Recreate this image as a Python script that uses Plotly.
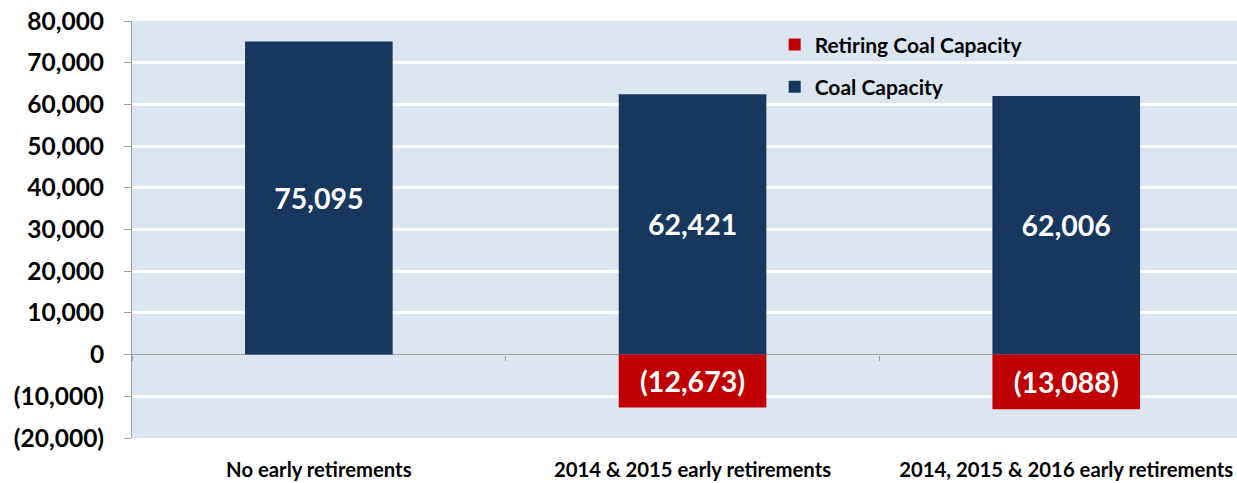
import plotly.graph_objects as go

categories = ["No early retirements", "2014 & 2015 early retirements", "2014, 2015 & 2016 early retirements"]
coal_capacity = [75095, 62421, 62006]
retiring_capacity = [None, -12673, -13088]

y_ticks = [80000, 70000, 60000, 50000, 40000, 30000, 20000, 10000, 0, -10000, -20000]


def fmt(v):
    if v is None:
        return ""
    return f"({abs(v):,})" if v < 0 else f"{v:,}"


FONT = "Lato, Calibri, 'Open Sans', sans-serif"
NAVY = "#17375E"
RED = "#C00000"

fig = go.Figure()
fig.add_trace(go.Bar(
    x=categories, y=coal_capacity, name="Coal Capacity", legendgroup="coal", legendrank=2,
    marker=dict(color=NAVY, line=dict(width=0)),
    text=[fmt(v) for v in coal_capacity], textposition="inside",
    insidetextanchor="middle", textangle=0,
    textfont=dict(family=FONT, size=28.5, color="white", weight="bold"),
    width=0.395,
))
fig.add_trace(go.Bar(
    x=categories, y=retiring_capacity, name="Retiring Coal Capacity", legendgroup="ret", legendrank=1,
    marker=dict(color=RED, line=dict(width=0)),
    text=[fmt(v) for v in retiring_capacity], textposition="inside",
    insidetextanchor="middle", textangle=0,
    textfont=dict(family=FONT, size=28.5, color="white", weight="bold"),
    width=0.395,
))
# helper trace so the zero-line axis with boundary ticks is drawn
fig.add_trace(go.Scatter(x=categories, y=[0, 0, 0], xaxis="x2", mode="lines",
                         line=dict(width=0), showlegend=False, hoverinfo="skip"))

xrange = [-0.5, 2.457]
fig.update_layout(
    width=1237, height=483,
    barmode="relative",
    paper_bgcolor="white",
    plot_bgcolor="#DCE6F1",
    margin=dict(l=132, r=0, t=21, b=45, autoexpand=False),
    font=dict(family=FONT, color="black"),
    legend=dict(
        x=0.5816, y=0.992, xanchor="left", yanchor="top",
        bgcolor="rgba(0,0,0,0)", traceorder="grouped",
        font=dict(family=FONT, size=21, color="black", weight="bold"),
        itemwidth=30, tracegroupgap=12,
    ),
    xaxis=dict(
        type="category", range=xrange, showgrid=False, zeroline=False,
        showline=False, ticks="", ticklabelstandoff=18, automargin=False,
        tickfont=dict(family=FONT, size=20.3, color="black", weight="bold"),
    ),
    xaxis2=dict(
        type="category", overlaying="x", anchor="free", position=(20000 / 100000),
        range=xrange, showline=False, showgrid=False, zeroline=False,
        showticklabels=False, ticks="outside", tickson="boundaries",
        ticklen=5, tickcolor="#A0A0A0", tickwidth=1, side="bottom",
    ),
    yaxis=dict(
        range=[-20000, 80000], tickvals=y_ticks, ticktext=[fmt(v) for v in y_ticks],
        showgrid=True, gridcolor="white", gridwidth=3,
        zeroline=True, zerolinecolor="#A0A0A0", zerolinewidth=1,
        showline=True, linecolor="#A0A0A0", linewidth=1,
        ticks="outside", ticklen=7, tickcolor="#A0A0A0",
        ticklabelstandoff=15, automargin=False,
        tickfont=dict(family=FONT, size=24.5, color="black", weight="bold"),
    ),
    bargap=0.6,
)

# drop the default page margin so the figure sits at the window's top-left corner
fig.write_html("out.html", config={"displayModeBar": False},
               post_script="document.body.style.margin='0';document.body.style.overflow='hidden';")
